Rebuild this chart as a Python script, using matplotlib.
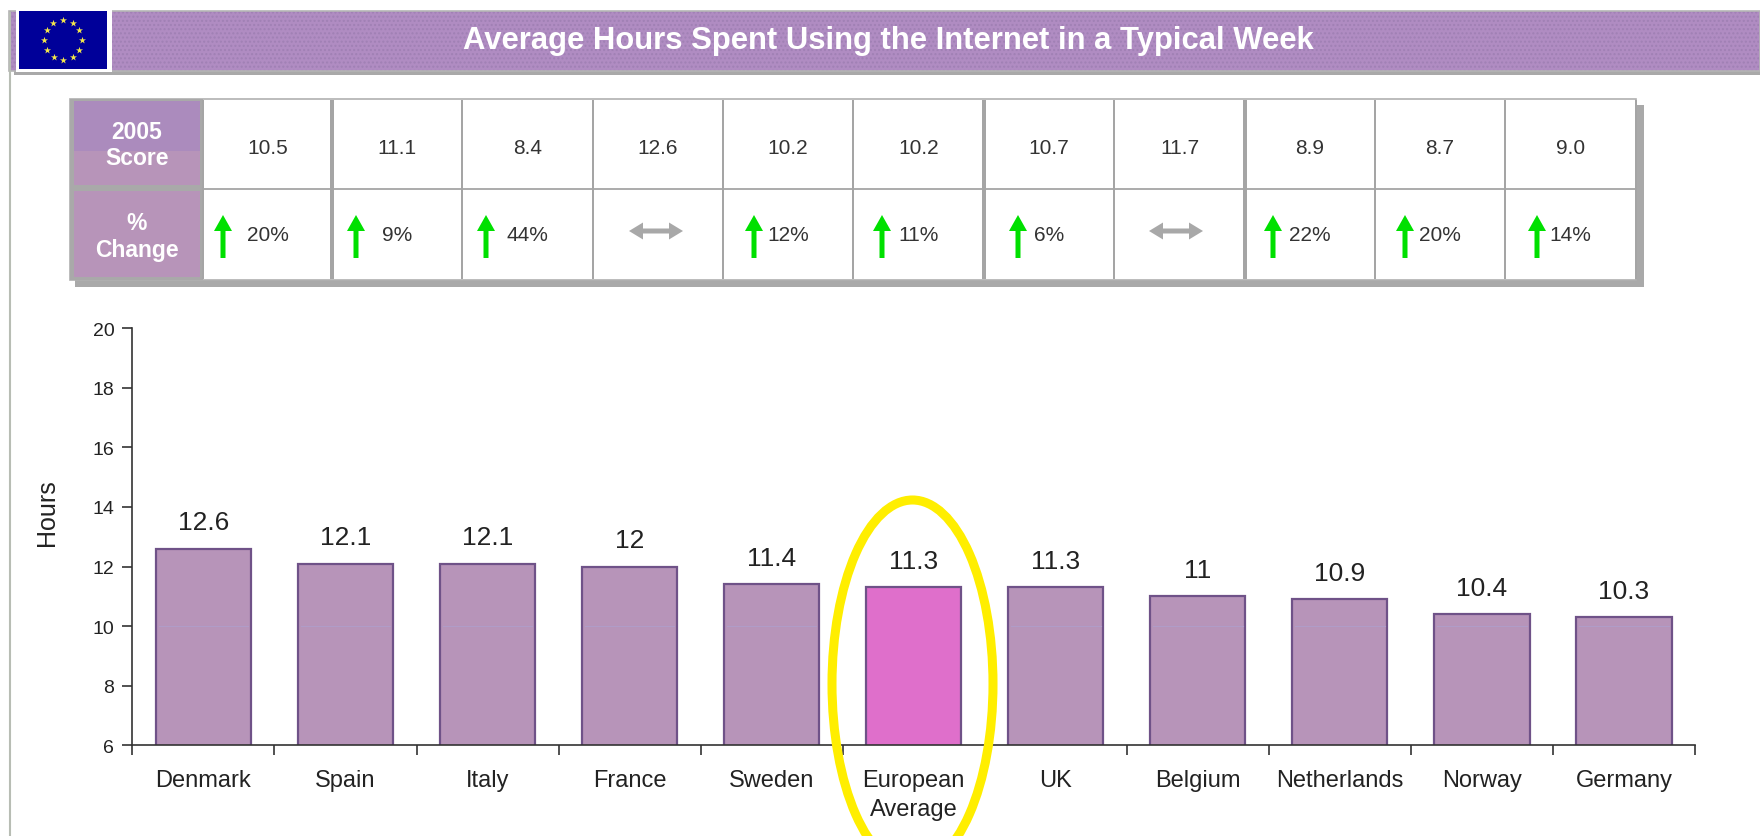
import numpy as np
import matplotlib
matplotlib.use("Agg")
import matplotlib.pyplot as plt
from matplotlib.patches import Ellipse, Rectangle

plt.rcParams['font.family'] = ['Liberation Sans', 'DejaVu Sans']

TITLE = "Average Hours Spent Using the Internet in a Typical Week"
countries = ["Denmark", "Spain", "Italy", "France", "Sweden", "European\nAverage", "UK",
             "Belgium", "Netherlands", "Norway", "Germany"]
hours = [12.6, 12.1, 12.1, 12, 11.4, 11.3, 11.3, 11, 10.9, 10.4, 10.3]
bar_labels = ["12.6", "12.1", "12.1", "12", "11.4", "11.3", "11.3", "11", "10.9", "10.4", "10.3"]
scores_2005 = ["10.5", "11.1", "8.4", "12.6", "10.2", "10.2", "10.7", "11.7", "8.9", "8.7", "9.0"]
changes = ["20%", "9%", "44%", "", "12%", "11%", "6%", "", "22%", "20%", "14%"]
trend = ["up", "up", "up", "flat", "up", "up", "up", "flat", "up", "up", "up"]
highlight = "European\nAverage"

# cell borders and arrow positions measured on the reference, in pixels
cell_edges = [203, 332, 462, 593, 723, 853, 984, 1114, 1245, 1375, 1505, 1636]
edge_widths = [2, 4, 2, 2, 2, 2, 4, 2, 4, 2, 2, 2]
arrow_x = [223, 356, 486, 656, 754, 882, 1018, 1176, 1273, 1405, 1537]

PURPLE = "#b794b9"
HEADER = "#ab8bbd"
GREY = "#a9a9a9"
TEXT = "#222222"


def draw_bars(fig):
    ax = fig.add_axes([132.4 / 1760, (837 - 746.4) / 837, (1695 - 132.4) / 1760, (746.4 - 329) / 837])
    x = np.arange(len(countries))
    colours = ["#df6fcb" if c == highlight else PURPLE for c in countries]
    bars = ax.bar(x, hours, width=0.67, bottom=0, color=colours, edgecolor="#6f5288", linewidth=1.6)
    for i, r in enumerate(bars):
        if countries[i] != highlight:
            ax.plot([r.get_x() + 0.02, r.get_x() + r.get_width() - 0.02], [10, 10], color="#b09cc8", lw=0.8)
        ax.annotate(bar_labels[i], (r.get_x() + r.get_width() / 2, hours[i]), xytext=(0, 10.5),
                    textcoords="offset points", ha="center", va="bottom", fontsize=19, color=TEXT)

    ax.set_xlim(-0.5, len(countries) - 0.5)
    ax.set_ylim(6, 20)
    ax.set_yticks(range(6, 21, 2))
    ax.set_xticks(x)
    ax.set_xticklabels(countries, fontsize=17, color=TEXT, linespacing=1.43, va="top")
    ax.set_xticks(np.arange(-0.5, len(countries)), minor=True)
    ax.tick_params(axis="x", which="major", length=0, pad=17)
    ax.tick_params(axis="x", which="minor", length=7, width=1.2, color="#333333")
    ax.tick_params(axis="y", length=7, width=1.2, color="#333333", labelsize=14, labelcolor=TEXT, pad=6)
    for side in ["top", "right"]:
        ax.spines[side].set_visible(False)
    for side in ["left", "bottom"]:
        ax.spines[side].set_linewidth(1.2)
        ax.spines[side].set_color("#333333")
    fig.text(47 / 1760, 1 - 513 / 837, "Hours", rotation=90, ha="center", va="center",
             fontsize=18, color=TEXT)


def draw_header(ov):
    ov.plot([9.5, 9.5], [14, 837], color="#b8bdb4", lw=1.5)
    ov.add_patch(Rectangle((14, 14), 1746, 62, color=GREY, lw=0))
    ov.add_patch(Rectangle((9, 12), 1751, 60, facecolor="#b08cc2", lw=0))
    ov.add_patch(Rectangle((9, 12), 1751, 60, facecolor="none", edgecolor="#a080b4", lw=0, hatch="...."))
    ov.add_patch(Rectangle((9, 12), 1751, 60, fill=False, edgecolor="#b5b5b5", lw=1.2))
    ov.add_patch(Rectangle((16, 10), 96, 63, color="white", lw=0))
    ov.add_patch(Rectangle((19, 12), 88, 58, color="#000099", lw=0))
    angles = np.arange(12) * np.pi / 6
    ov.scatter(63 + 19 * np.cos(angles), 41 + 20 * np.sin(angles), marker="*", s=28, color="#f4e84a", lw=0)
    ov.text(888, 41, TITLE, color="white", fontsize=22.3, fontweight="bold", ha="center", va="center")


def draw_table(ov):
    # shadow, frame, then cells
    ov.add_patch(Rectangle((75, 106), 1569, 182, color=GREY, lw=0))
    ov.add_patch(Rectangle((70, 100), 1566, 181, facecolor="white", edgecolor="#b0b0b0", lw=1.2))
    ov.add_patch(Rectangle((70, 100), 133, 181, color=GREY, lw=0))
    ov.add_patch(Rectangle((74, 102), 126, 84, color=PURPLE, lw=0))
    ov.add_patch(Rectangle((74, 102), 126, 50, color=HEADER, lw=0))
    ov.add_patch(Rectangle((74, 192), 126, 86, color=PURPLE, lw=0))
    for label, y in [("2005", 132), ("Score", 158), ("%", 223), ("Change", 250)]:
        ov.text(137, y, label, color="white", fontsize=16.5, fontweight="bold", ha="center", va="center")

    for xe, w in zip(cell_edges, edge_widths):
        ov.plot([xe, xe], [101, 280], color="#a5a5a5", lw=w * 0.72, solid_capstyle="butt")
    ov.plot([203, 1636], [189.5, 189.5], color="#a5a5a5", lw=1.3)

    for i in range(len(scores_2005)):
        cx = (cell_edges[i] + cell_edges[i + 1]) / 2
        ov.text(cx, 148, scores_2005[i], color="#333333", fontsize=15, ha="center", va="center")
        if trend[i] == "up":
            ov.arrow(arrow_x[i], 259, 0, -43, width=5, head_width=18, head_length=16,
                     length_includes_head=True, color="#00e000", lw=0)
            ov.text(cx, 235, changes[i], color="#333333", fontsize=15, ha="center", va="center")
        else:
            for sign in [-1, 1]:
                ov.arrow(arrow_x[i], 232, sign * 27, 0, width=5, head_width=17, head_length=14,
                         length_includes_head=True, color="#a8a8a8", lw=0)


def main():
    fig = plt.figure(figsize=(17.6, 8.37), dpi=100, facecolor="white")
    draw_bars(fig)

    ov = fig.add_axes([0, 0, 1, 1], facecolor="none")
    ov.set_xlim(0, 1760)
    ov.set_ylim(837, 0)
    ov.axis("off")
    draw_header(ov)
    draw_table(ov)
    ov.add_patch(Ellipse((912.5, 685), 161, 368, fill=False, edgecolor="#ffee00", lw=6.5))

    fig.savefig("out.png", dpi=100)


main()
